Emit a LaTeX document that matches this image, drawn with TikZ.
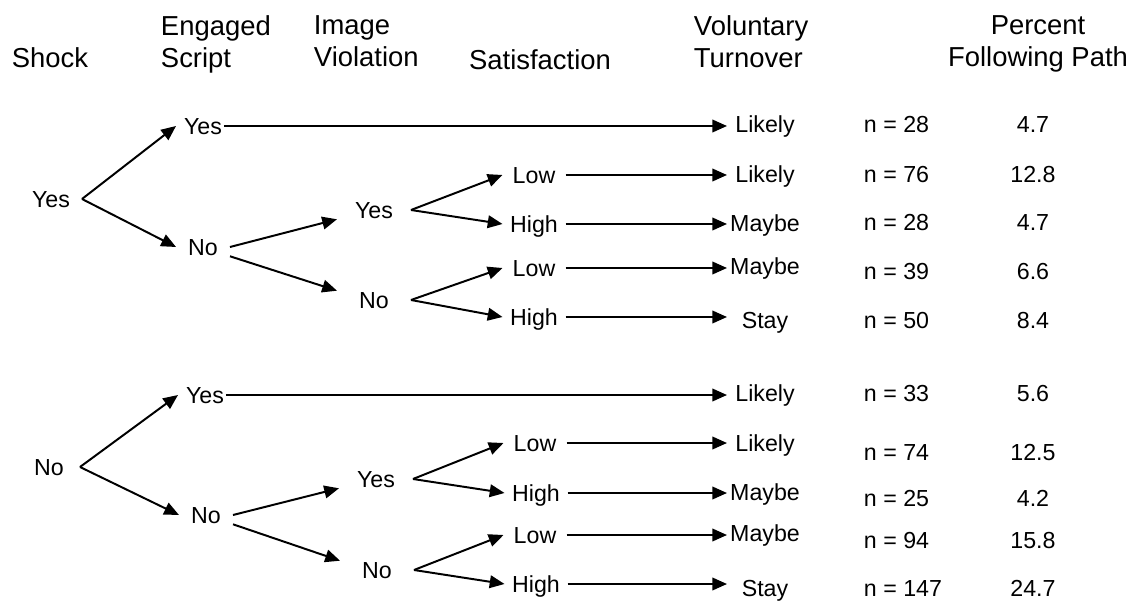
\documentclass[tikz,border=0pt]{standalone}
\usepackage{fontspec}
\setmainfont{Liberation Sans}
\usetikzlibrary{arrows.meta,positioning,calc}
\tikzset{
head/.style  = {font=\fontsize{19.5}{22.7}\selectfont, inner sep=0pt},
lab/.style   = {font=\fontsize{16.5}{19.8}\selectfont, inner sep=0pt, text height=11.8pt, text depth=0pt},
shock/.style = {lab, minimum width=1.5cm},
eng/.style   = {lab, minimum width=1.3cm},
viol/.style  = {lab, minimum width=1.8cm},
sat/.style   = {lab, minimum width=1.525cm},
turn/.style  = {lab, minimum width=1.85cm},
count/.style = {lab, anchor=west},
pct/.style   = {lab}
}

\begin{document}
\begin{tikzpicture}[x=0.025cm, y=-0.025cm, >={Triangle[length=10.5pt,width=9pt]}, line width=1.4pt]
\useasboundingbox (0,0) rectangle (1136,602);
% column heads
\node[head] (hshock) at (50,58) {Shock};
\node[head, align=left, anchor=north west] (hscript) at (160,15) {Engaged\\Script};
\node[head, align=left, anchor=north west] (himage) at (313,15) {Image\\Violation};
\node[head] (hsat) at (540,60) {Satisfaction};
\node[head, align=left, anchor=north west] (hturn) at (693,15) {Voluntary\\Turnover};
\node[head, align=center, anchor=north] (hpct) at (1038,15) {Percent\\Following Path};
% shock = yes
\node[shock] (s1) at (51,199) {Yes};
\node[eng] (e1y) at (203,126) {Yes};
\node[eng] (e1n) at (203,247) {No};
\node[viol] (v1y) at (374,210) {Yes};
\node[viol] (v1n) at (374,300) {No};
\node[sat] (l1y) at (534,175) {Low};
\node[sat] (h1y) at (534,224) {High};
\node[sat] (l1n) at (534,268) {Low};
\node[sat] (h1n) at (534,317) {High};
\node[turn] (t1a) at (765,124) {Likely};
\node[turn] (t1b) at (765,174) {Likely};
\node[turn] (t1c) at (765,223) {Maybe};
\node[turn] (t1d) at (765,266) {Maybe};
\node[turn] (t1e) at (765,320) {Stay};
\node[count] (n1a) at (863,124) {n = 28};
\node[count] (n1b) at (863,174) {n = 76};
\node[count] (n1c) at (863,222) {n = 28};
\node[count] (n1d) at (863,271) {n = 39};
\node[count] (n1e) at (863,320) {n = 50};
\node[pct] (p1a) at (1033,124) {4.7};
\node[pct] (p1b) at (1033,174) {12.8};
\node[pct] (p1c) at (1033,222) {4.7};
\node[pct] (p1d) at (1033,271) {6.6};
\node[pct] (p1e) at (1033,320) {8.4};
\draw[->] (s1.east) -- (e1y.west);
\draw[->] (s1.east) -- (e1n.west);
\draw[->] (e1n.east) -- (v1y.south west);
\draw[->] (e1n.south east) -- (v1n.north west);
\draw[->] (v1y.east) -- (l1y.west);
\draw[->] (v1y.east) -- (h1y.west);
\draw[->] (v1n.east) -- (l1n.west);
\draw[->] (v1n.east) -- (h1n.west);
\draw[->, shorten <=-0.15cm] (e1y.east) -- (e1y.east -| t1a.west);
\draw[->] (l1y.east) -- (l1y.east -| t1b.west);
\draw[->] (h1y.east) -- (h1y.east -| t1c.west);
\draw[->] (l1n.east) -- (l1n.east -| t1d.west);
\draw[->] (h1n.east) -- (h1n.east -| t1e.west);
% shock = no
\node[shock] (s2) at (49,467) {No};
\node[eng] (e2y) at (205,395) {Yes};
\node[eng] (e2n) at (206,515) {No};
\node[viol] (v2y) at (376,479) {Yes};
\node[viol] (v2n) at (377,570) {No};
\node[sat] (l2y) at (535,443) {Low};
\node[sat] (h2y) at (536,493) {High};
\node[sat] (l2n) at (535,535) {Low};
\node[sat] (h2n) at (536,584) {High};
\node[turn] (t2a) at (765,393) {Likely};
\node[turn] (t2b) at (765,443) {Likely};
\node[turn] (t2c) at (765,492) {Maybe};
\node[turn] (t2d) at (765,533) {Maybe};
\node[turn] (t2e) at (765,588) {Stay};
\node[count] (n2a) at (863,393) {n = 33};
\node[count] (n2b) at (863,452) {n = 74};
\node[count] (n2c) at (863,498) {n = 25};
\node[count] (n2d) at (863,540) {n = 94};
\node[count] (n2e) at (863,588) {n = 147};
\node[pct] (p2a) at (1033,393) {5.6};
\node[pct] (p2b) at (1033,452) {12.5};
\node[pct] (p2c) at (1033,498) {4.2};
\node[pct] (p2d) at (1033,540) {15.8};
\node[pct] (p2e) at (1033,588) {24.7};
\draw[->] (s2.east) -- (e2y.west);
\draw[->] (s2.east) -- (e2n.west);
\draw[->] (e2n.east) -- (v2y.south west);
\draw[->] (e2n.south east) -- (v2n.north west);
\draw[->] (v2y.east) -- (l2y.west);
\draw[->] (v2y.east) -- (h2y.west);
\draw[->] (v2n.east) -- (l2n.west);
\draw[->] (v2n.east) -- (h2n.west);
\draw[->, shorten <=-0.15cm] (e2y.east) -- (e2y.east -| t2a.west);
\draw[->] (l2y.east) -- (l2y.east -| t2b.west);
\draw[->] (h2y.east) -- (h2y.east -| t2c.west);
\draw[->] (l2n.east) -- (l2n.east -| t2d.west);
\draw[->] (h2n.east) -- (h2n.east -| t2e.west);
\end{tikzpicture}
\end{document}
